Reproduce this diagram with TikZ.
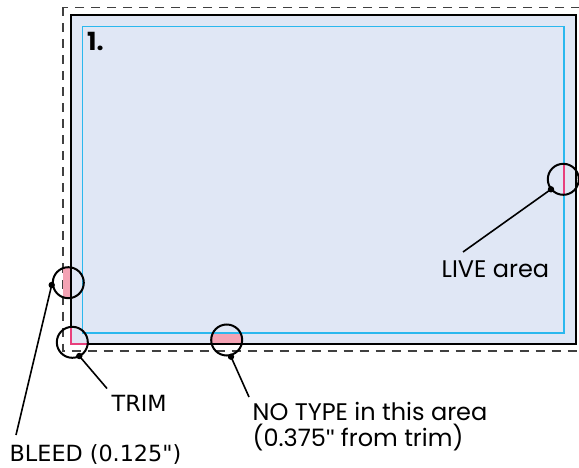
\documentclass[tikz,border=0pt]{standalone}
\usepackage{fontspec}
\setmainfont{Poppins}
\newfontfamily\qfont{Liberation Sans}
\newfontfamily\plexlike{DejaVu Sans}
\definecolor{paper}{HTML}{E0E7F5}
\definecolor{livec}{HTML}{2BB8EE}
\definecolor{pinkf}{HTML}{F4A3B4}
\definecolor{pinkl}{HTML}{E8407C}
\newcommand{\sq}{{\qfont\symbol{34}}}
\begin{document}
\begin{tikzpicture}[x=1pt,y=-1pt,
  bleedline/.style={draw=black!75,line width=1.3pt,dash pattern=on 9pt off 7pt},
  trimline/.style={draw=black,line width=1.6pt},
  liveline/.style={draw=livec,line width=1.5pt},
  ring/.style={circle,draw=black,line width=2pt,minimum size=31pt,inner sep=0pt},
  conn/.style={draw=black,line width=1.6pt},
  dotc/.style={fill=black},
  lbl/.style={font=\fontsize{24}{26}\selectfont,inner sep=0pt,anchor=base west},
  lblb/.style={font=\plexlike\fontsize{22.3}{26}\selectfont,inner sep=0pt,anchor=base west}
]
\useasboundingbox (0,0) rectangle (579,468);
% bleed, trim, live
\draw[bleedline] (63,7.5) rectangle (586,351);
\fill[paper] (71,15) rectangle (576,344);
\node[lbl,font=\fontsize{25}{26}\selectfont\bfseries] (num) at (87,50.5) {1.};
% pink marks (under lines where needed)
\begin{scope}
  \clip (68.3,282.7) circle (15);
  \fill[pinkf] (63,260) rectangle (71,305);
\end{scope}
\begin{scope}
  \clip (226.7,340) circle (16);
  \fill[pinkf] (205,333) rectangle (250,344.5);
\end{scope}
\draw[trimline] (71,15) rectangle (576,344);
\draw[liveline] (82.5,26.5) rectangle (564,333);
\begin{scope}
  \clip (72.3,342.3) circle (15.5);
  \draw[pinkl,line width=2pt] (71,320) -- (71,344) -- (95,344);
\end{scope}
\begin{scope}
  \clip (563.3,179.3) circle (15.7);
  \draw[pinkl,line width=2pt] (564,160) -- (564,200);
\end{scope}
% rings
\node[ring] (rlive) at (563.3,179.3) {};
\node[ring] (rbleed) at (68.3,282.7) {};
\node[ring] (rtrim) at (72.3,342.3) {};
\node[ring] (rnotype) at (226.7,340) {};
% dots
\coordinate (dlive) at (551,189.3);
\coordinate (dbleed) at (51.7,285);
\coordinate (dtrim) at (79.3,356);
\coordinate (dnotype) at (231,356.7);
\foreach \d in {dlive,dbleed,dtrim,dnotype} \fill[dotc] (\d) circle (3.2);
% labels
\node[lbl] (tlive) at (441.5,277.3) {LIVE area};
\node[lblb] (ttrim) at (111.5,411.7) {TRIM};
\node[lblb] (tbleed) at (9.5,461) {BLEED (0.125")};
\node[lbl] (tnotype) at (252.5,420.7) {NO TYPE in this area};
\node[lbl] (tnotype2) at (252.5,446.5) {(0.375\sq{} from trim)};
% connector ends
\coordinate (elive) at (463,252);
\coordinate (ebleed) at (16,435);
\coordinate (etrim) at (107,388.5);
\coordinate (enotype) at (249,397);
\draw[conn] (dlive) -- (elive);
\draw[conn] (dbleed) -- (ebleed);
\draw[conn] (dtrim) -- (etrim);
\draw[conn] (dnotype) -- (enotype);
\end{tikzpicture}
\end{document}
